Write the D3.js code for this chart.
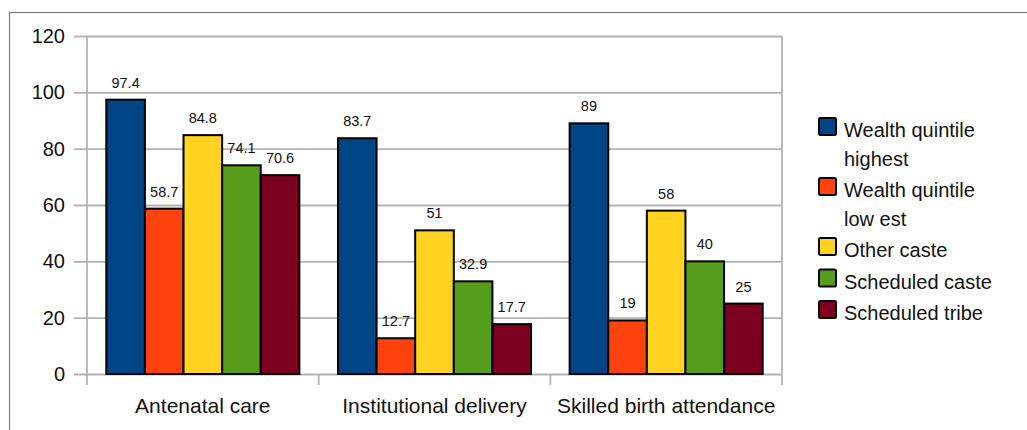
<!DOCTYPE html>
<html>
<head>
<meta charset="utf-8">
<script src="https://cdn.jsdelivr.net/npm/d3@7"></script>
<style>
  body { margin: 0; background: #fff; }
  svg { display: block; font-family: "Liberation Sans", Arial, sans-serif; }
</style>
</head>
<body>
<svg id="chart" width="1027" height="430"></svg>
<script>
var categories = ["Antenatal care", "Institutional delivery", "Skilled birth attendance"]
var seriesNames = ["Wealth quintile highest", "Wealth quintile lowest", "Other caste", "Scheduled caste", "Scheduled tribe"]
var legendLines = [["Wealth quintile", "highest"], ["Wealth quintile", "low est"], ["Other caste"], ["Scheduled caste"], ["Scheduled tribe"]]
var seriesColors = ["#004586", "#ff420e", "#ffd320", "#579d1c", "#7e0021"]

// one array per series, values in category order
var wealthHighest = [97.4, 83.7, 89]
var wealthLowest = [58.7, 12.7, 19]
var otherCaste = [84.8, 51, 58]
var scheduledCaste = [74.1, 32.9, 40]
var scheduledTribe = [70.6, 17.7, 25]
var seriesValues = [wealthHighest, wealthLowest, otherCaste, scheduledCaste, scheduledTribe]

var yTicks = [0, 20, 40, 60, 80, 100, 120]

var plot = { left: 87, right: 782, top: 36, bottom: 374 }

var svg = d3.select("#chart")

// outer frame
svg.append("rect")
    .attr("x", 9.5).attr("y", 12.5)
    .attr("width", 1040).attr("height", 440)
    .attr("fill", "none")
    .attr("stroke", "#7f7f7f")
    .attr("stroke-width", 1.2)

var x0 = d3.scaleBand().domain(categories).range([plot.left, plot.right]).padding(0)
var x1 = d3.scaleBand().domain(seriesNames).range([0, x0.bandwidth()]).paddingInner(0).paddingOuter(0.5)
var y = d3.scaleLinear().domain([0, 120]).range([plot.bottom, plot.top])

// horizontal grid + y ticks
svg.append("g")
    .attr("transform", "translate(" + plot.left + ",0)")
    .call(d3.axisLeft(y).tickValues(yTicks).tickSize(13).tickPadding(9))
    .call(g => g.select(".domain").remove())
    .call(g => g.selectAll("line").attr("stroke", "#b3b3b3").attr("stroke-width", 1.8)
        .attr("x2", -13).attr("x1", plot.right - plot.left))
    .call(g => g.selectAll("text").attr("font-size", 20).attr("fill", "#111")
        .attr("font-family", "Liberation Sans, Arial, sans-serif"))

// y axis line
svg.append("line")
    .attr("x1", plot.left).attr("x2", plot.left)
    .attr("y1", plot.top).attr("y2", plot.bottom + 11)
    .attr("stroke", "#b3b3b3").attr("stroke-width", 1.8)

// right border of plot area
svg.append("line")
    .attr("x1", plot.right).attr("x2", plot.right)
    .attr("y1", plot.top).attr("y2", plot.bottom + 11)
    .attr("stroke", "#b3b3b3").attr("stroke-width", 1.8)

// category separators below axis
svg.selectAll(".cattick")
    .data(categories.slice(1))
    .enter().append("line")
    .attr("class", "cattick")
    .attr("x1", d => x0(d)).attr("x2", d => x0(d))
    .attr("y1", plot.bottom).attr("y2", plot.bottom + 11)
    .attr("stroke", "#b3b3b3").attr("stroke-width", 1.8)

// category labels
svg.selectAll(".catlabel")
    .data(categories)
    .enter().append("text")
    .attr("class", "catlabel")
    .attr("x", d => x0(d) + x0.bandwidth() / 2)
    .attr("y", 413)
    .attr("text-anchor", "middle")
    .attr("font-size", 21)
    .attr("fill", "#111")
    .text(d => d)

// bars
var groups = svg.selectAll(".grp")
    .data(categories)
    .enter().append("g")
    .attr("class", "grp")
    .attr("transform", d => "translate(" + x0(d) + ",0)")

var cells = groups.selectAll(".bar")
    .data((c, ci) => seriesNames.map((s, si) => ({ s: s, si: si, v: seriesValues[si][ci] })))
    .enter()

cells.append("rect")
    .attr("class", "bar")
    .attr("x", d => x1(d.s))
    .attr("y", d => y(d.v))
    .attr("width", x1.bandwidth())
    .attr("height", d => y(0) - y(d.v))
    .attr("fill", d => seriesColors[d.si])
    .attr("stroke", "#000")
    .attr("stroke-width", 2)

cells.append("text")
    .attr("x", d => x1(d.s) + x1.bandwidth() / 2)
    .attr("y", d => y(d.v) - 12)
    .attr("text-anchor", "middle")
    .attr("font-size", 14.5)
    .attr("fill", "#111")
    .text(d => String(d.v))

// legend
var lineH = 28.5
var ly = 118
legendLines.forEach((lines, i) => {
    var g = svg.append("g").attr("transform", "translate(819," + ly + ")")
    g.append("rect")
        .attr("x", 0).attr("y", 0)
        .attr("width", 17).attr("height", 17)
        .attr("rx", 1.5)
        .attr("fill", seriesColors[i])
        .attr("stroke", "#000").attr("stroke-width", 2)
    lines.forEach((t, j) => {
        g.append("text")
            .attr("x", 25).attr("y", 19 + j * lineH)
            .attr("font-size", 20)
            .attr("fill", "#111")
            .text(t)
    })
    ly += lines.length * lineH + 3
})
</script>
</body>
</html>
